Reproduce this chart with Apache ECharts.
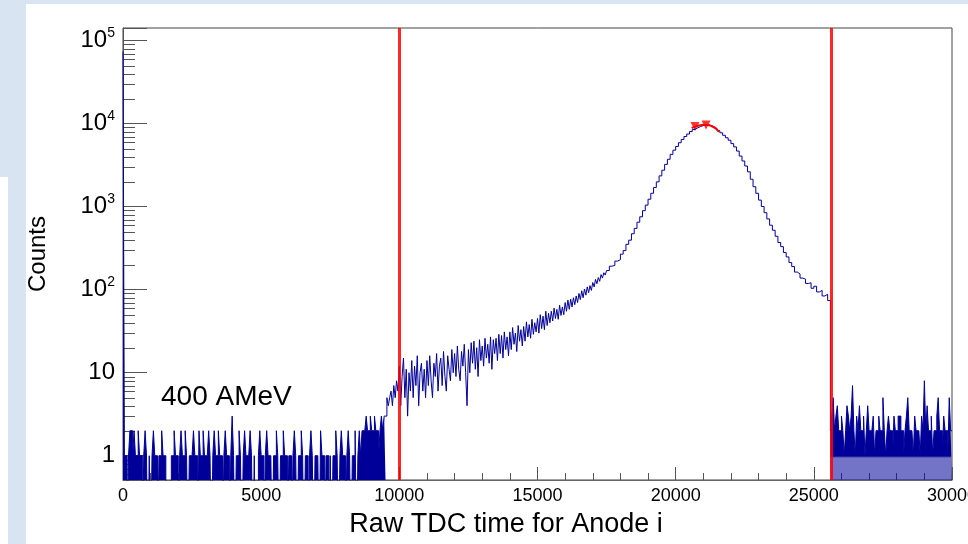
<!DOCTYPE html>
<html>
<head>
<meta charset="utf-8">
<title>Raw TDC time for Anode i</title>
<script src="https://cdn.jsdelivr.net/npm/echarts@6.0.0/dist/echarts.min.js"></script>
<style>
html, body { margin: 0; padding: 0; background: #fff; }
#tdc { width: 968px; height: 544px; }
</style>
</head>
<body>
<div id="tdc"></div>
<script>
// histogram counts, bin low edge = start + i*step
var lowStart = 0, lowStep = 50;
var lowCounts = [
  74000,1,1,0,1,2,2,1,2,1,  1,2,1,1,0,1,2,1,0,1,  0,1,2,1,1,0,1,1,2,1,  1,0,0,0,0,1,1,2,1,1,
  0,1,2,1,1,2,1,0,1,1,  1,2,1,1,0,2,1,1,2,1,  1,1,2,1,0,1,2,1,1,2,  1,1,0,1,2,1,1,0,1,3,
  1,0,1,1,2,1,0,1,2,1,  1,1,2,1,0,1,0,0,1,2,  1,1,0,1,2,1,1,1,0,1,  1,2,1,0,1,1,2,1,1,0,
  1,1,0,1,2,1,0,1,1,2,  1,0,1,1,0,1,2,1,0,1,  1,1,0,2,1,1,0,1,1,0,  1,0,1,1,2,1,0,1,2,1,
  1,0,1,2,1,0,1,1,2,0,  1,2,1,2,2,2,3,2,2,3,  2,2,3,2,2,1,2,3,2,3,  3,5,4,5,6,4,7,5,8,6
];
var midStart = 10000, midStep = 50;
var midCounts = [
  12,4,9,15,5,11,3,10,6,14,  5,12,7,16,4,10,13,6,11,5,  14,7,16,8,5,13,9,17,6,12,
  15,7,18,9,6,16,11,8,19,10,  17,9,21,11,8,18,12,22,10,4,  19,10,23,13,24,11,20,9,25,14,
  21,12,26,15,22,13,27,11,25,17,  26,14,29,17,28,15,31,19,27,16,  31,19,35,22,30,18,37,24,33,21,
  36,24,41,27,38,26,44,29,40,31,  45,30,50,34,48,33,55,37,52,40,  55,42,60,45,58,44,65,49,62,50,
  70,55,75,58,77,62,80,66,84,70,  90,76,97,80,102,86,108,92,112,98,  122,108,133,118,140,126,152,138,160,150
];
var peakStart = 17500, peakStep = 100;
var peakCounts = [
  170,192,196,221,230,268,296,352,395,472,
  548,650,755,895,1045,1230,1450,1700,1990,2350,
  2750,3230,3720,4270,4790,5310,5890,6460,7000,7500,
  8030,8510,8910,9230,9500,9660,9660,9440,9120,8710,
  8220,7760,7240,6760,6310,5750,5250,4680,4070,3550,
  3090,2630,2140,1740,1450,1200,1005,846,712,598,
  520,440,370,330,280,248,212,190,163,155,
  138,134,119,121,104,110,94,98,84,88,74
];
var tailStart = 25600, tailStep = 50;
var tailCounts = [
  2,3,5,2,3,4,2,2,3,2,  1,2,4,3,2,3,7,2,1,3,  2,4,2,2,3,1,2,4,2,2,  2,3,1,2,2,3,2,2,5,2,
  1,2,3,2,2,1,3,2,2,3,  3,2,2,1,2,3,5,2,2,2,  1,3,2,2,2,1,3,2,8,2,  4,2,2,3,1,2,2,3,5,2,
  2,1,3,2,2,1,5,2
];
var xMax = 30000;
var denseEnd = 9500; // below this the fine bins mix empty and filled

// cut lines, fit and found peaks
var cutLines = [10000, 25625];
var fitX = [20580, 20700, 20850, 21000, 21150, 21300, 21450, 21570];
var fitY = [8870, 9200, 9500, 9700, 9650, 9350, 8750, 7950];
var peakX = [20700, 21100];
var peakY = [9270, 9640];

var ZERO_DRAW = 0.05; // log axis can't show 0, empty bins go below the frame
function binsToPoints(start, step, counts, end) {
  var pts = [];
  for (var i = 0; i < counts.length; i++) {
    if (end !== undefined && start + i * step >= end) break;
    pts.push([start + i * step, counts[i] > 0 ? counts[i] : ZERO_DRAW]);
  }
  if (end !== undefined) pts.push([end, pts[pts.length - 1][1]]);
  return pts;
}
var lowPoints = binsToPoints(lowStart, lowStep, lowCounts, denseEnd);
var tailPoints = binsToPoints(tailStart, tailStep, tailCounts, xMax);
var histPoints = binsToPoints(lowStart, lowStep, lowCounts)
  .concat(binsToPoints(midStart, midStep, midCounts))
  .concat(binsToPoints(peakStart, peakStep, peakCounts))
  .concat(tailPoints);

var fitPoints = fitX.map(function (x, i) { return [x, fitY[i]]; });
var peakPoints = peakX.map(function (x, i) { return [x, peakY[i]]; });

// log minor ticks 2..9 per decade
var yMinor = [];
for (var e = -1; e <= 4; e++) {
  for (var m = 2; m <= 9; m++) {
    var v = m * Math.pow(10, e);
    if (v > 0.51) yMinor.push([0, v]);
  }
}

function logLabel(v) {
  var p = Math.round(Math.log(v) / Math.LN10);
  if (Math.abs(v / Math.pow(10, p) - 1) > 1e-6) return '';
  if (p === 0) return '1';
  if (p === 1) return '10';
  return '{b|10}{s|' + p + '}';
}

var chart = echarts.init(document.getElementById('tdc'));
var font = 'Liberation Sans, Arial, sans-serif';
var blue = '#000099';

// the dense fine-binned tail looks solid above 1 and striped below
var tailFill = new echarts.graphic.LinearGradient(0, 456, 0, 480, [
  { offset: 0, color: blue },
  { offset: 0.08, color: 'rgba(0,0,153,0.55)' },
  { offset: 1, color: 'rgba(0,0,153,0.55)' }
], true);

var option = {
  animation: false,
  backgroundColor: '#fff',
  textStyle: { fontFamily: font },
  graphic: [
    { type: 'rect', shape: { x: 0, y: 0, width: 26, height: 177 }, style: { fill: '#d8e4f1' }, silent: true },
    { type: 'rect', shape: { x: 8, y: 177, width: 18, height: 367 }, style: { fill: '#d8e4f1' }, silent: true },
    { type: 'rect', shape: { x: 26, y: 0, width: 942, height: 4 }, style: { fill: '#d8e4f1' }, silent: true },
    { type: 'text', left: 161, top: 383, style: { text: '400 AMeV', font: '28px ' + font, fill: '#000' }, silent: true }
  ],
  grid: {
    left: 123, right: 16, top: 28, bottom: 64,
    outerBoundsMode: 'none',
    show: true, borderColor: '#444', borderWidth: 1, backgroundColor: '#fff'
  },
  xAxis: {
    type: 'value',
    min: 0, max: xMax, interval: 5000,
    name: 'Raw TDC time for Anode i',
    nameLocation: 'middle',
    nameGap: 31,
    nameTextStyle: { fontSize: 27, color: '#000', padding: [0, 63, 0, 0] },
    axisLine: { lineStyle: { color: '#666' } },
    axisTick: { inside: true, length: 13, lineStyle: { color: '#555' } },
    minorTick: { show: true, splitNumber: 5, length: 7, lineStyle: { color: '#555' } },
    splitLine: { show: false },
    axisLabel: {
      fontSize: 18, color: '#000', margin: 7,
      formatter: function (v) { return String(v); }
    }
  },
  yAxis: {
    type: 'log', logBase: 10,
    min: 0.51, max: 142000,
    name: 'Counts',
    nameLocation: 'middle',
    nameGap: 73,
    nameTextStyle: { fontSize: 24, color: '#000' },
    axisLine: { show: true, lineStyle: { color: '#555' } },
    axisTick: { inside: true, length: 24, lineStyle: { color: '#555' } },
    splitLine: { show: false },
    axisLabel: {
      fontSize: 24, color: '#000', margin: 8,
      formatter: logLabel,
      rich: {
        b: { fontSize: 24, lineHeight: 30, color: '#000' },
        s: { fontSize: 14, lineHeight: 14, verticalAlign: 'top', color: '#000' }
      }
    }
  },
  series: [
    {
      name: 'minor ticks',
      type: 'custom',
      silent: true,
      data: yMinor,
      renderItem: function (params, api) {
        var p = api.coord([0, api.value(1)]);
        var y = Math.round(p[1]) + 0.5;
        return {
          type: 'line',
          shape: { x1: p[0], y1: y, x2: p[0] + 12, y2: y },
          style: { stroke: '#555', lineWidth: 1 }
        };
      }
    },
    {
      name: 'low fill',
      type: 'line',
      step: 'end',
      symbol: 'none',
      silent: true,
      data: lowPoints,
      lineStyle: { width: 0, opacity: 0 },
      areaStyle: { origin: 'start', color: blue, opacity: 1 }
    },
    {
      name: 'tail fill',
      type: 'line',
      step: 'end',
      symbol: 'none',
      silent: true,
      data: tailPoints,
      lineStyle: { width: 0, opacity: 0 },
      areaStyle: { origin: 'start', color: tailFill, opacity: 1 }
    },
    {
      name: 'Anode i',
      type: 'line',
      step: 'end',
      symbol: 'none',
      clip: true,
      data: histPoints,
      lineStyle: { color: blue, width: 1 },
      markLine: {
        silent: true,
        symbol: 'none',
        label: { show: false },
        lineStyle: { color: '#ff0000', width: 3, type: 'solid', opacity: 0.85 },
        data: cutLines.map(function (c) { return { xAxis: c }; })
      }
    },
    {
      name: 'fit',
      type: 'line',
      smooth: true,
      symbol: 'none',
      data: fitPoints,
      lineStyle: { color: '#ff0000', width: 2 }
    },
    {
      name: 'peaks',
      type: 'scatter',
      symbol: 'triangle',
      symbolRotate: 180,
      symbolSize: 9,
      data: peakPoints,
      itemStyle: { color: '#ff0000' }
    }
  ]
};
chart.setOption(option);
</script>
</body>
</html>
